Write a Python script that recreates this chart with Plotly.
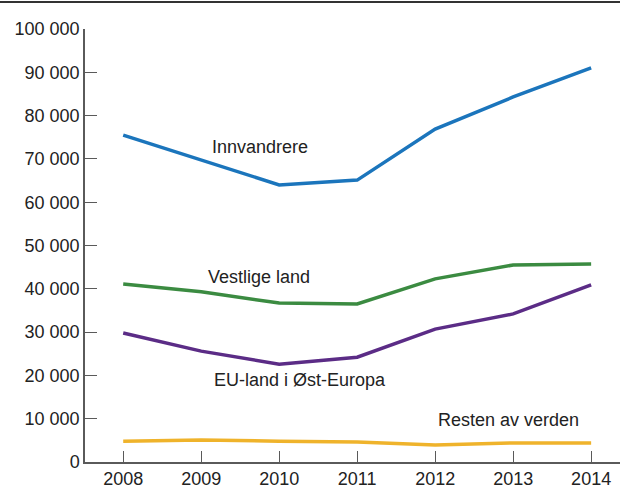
import plotly.graph_objects as go

years = [2008, 2009, 2010, 2011, 2012, 2013, 2014]
innvandrere = [75500, 69700, 64000, 65100, 76900, 84300, 91000]
vestlige = [41100, 39300, 36700, 36500, 42300, 45500, 45700]
eu_ost = [29800, 25600, 22600, 24200, 30700, 34200, 40900]
resten = [4800, 5100, 4800, 4600, 3900, 4400, 4400]

# name, values, colour, label position (data coords)
series = [
    ("Innvandrere", innvandrere, "#1b75bc", 2009.75, 72800),
    ("Vestlige land", vestlige, "#3b8b41", 2009.74, 42800),
    ("EU-land i Øst-Europa", eu_ost, "#5b2c86", 2010.27, 18900),
    ("Resten av verden", resten, "#efb32b", 2012.94, 9700),
]

fig = go.Figure()
for name, vals, color, lx, ly in series:
    fig.add_trace(go.Scatter(x=years, y=vals, mode="lines", name=name,
                             line=dict(color=color, width=3.5)))
    fig.add_annotation(x=lx, y=ly, text=name, showarrow=False,
                       font=dict(size=18, color="#222222"))

axis_style = dict(showline=True, linecolor="#5a5a5a", linewidth=1.5,
                  ticks="inside", tickcolor="#5a5a5a", tickwidth=1.2,
                  showgrid=False, zeroline=False, automargin=False,
                  tickfont=dict(size=18, color="#222222"))

fig.update_layout(
    width=620, height=486,
    margin=dict(l=85, r=0, t=29, b=24),
    paper_bgcolor="white", plot_bgcolor="white",
    showlegend=False,
    separators=", ",
    font=dict(family="Liberation Sans, Arial"),
    xaxis=dict(range=[2007.51, 2014.37], tickvals=years, ticklen=11, **axis_style),
    yaxis=dict(range=[0, 100000], dtick=10000, tickformat=",d", ticklen=12, **axis_style),
    shapes=[dict(type="line", xref="paper", yref="paper", x0=-0.2, x1=1.0,
                 y0=1.0624, y1=1.0624, line=dict(color="#333333", width=2))],
)

fig.write_html("out.html", config={"displayModeBar": False},
               post_script="document.body.style.margin='0';"
                           "document.documentElement.style.overflow='hidden';")
